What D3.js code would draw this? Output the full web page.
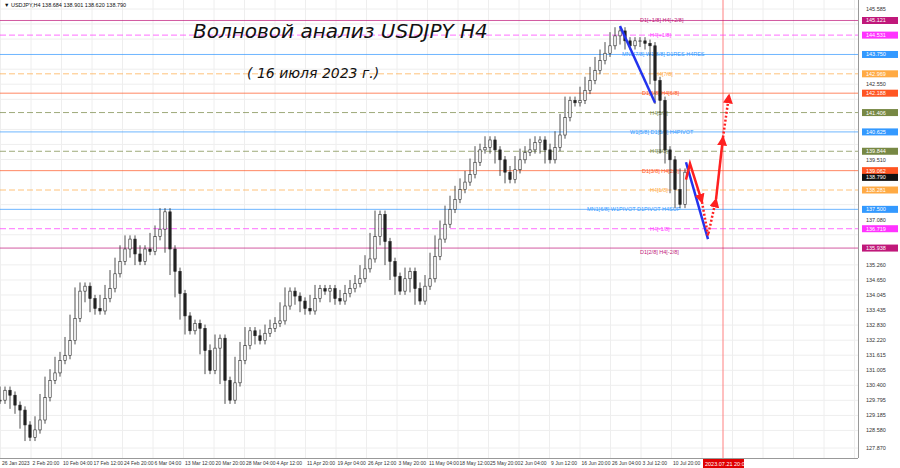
<!DOCTYPE html>
<html><head><meta charset="utf-8">
<script src="https://cdn.jsdelivr.net/npm/d3@7"></script>
<style>body{margin:0;background:#fff}svg{font-family:"Liberation Sans",Arial,sans-serif}</style>
</head><body><svg id="chart" width="900" height="468"></svg>
<script>
// closes, one per step (5 px) from 26 Jan to 14 Jul
const closes = [129.8,130.2,130.0,129.6,129.4,128.8,128.3,128.6,129.0,129.9,130.6,130.9,131.4,131.6,132.2,133.1,134.2,134.4,133.9,133.5,
133.4,133.9,134.3,134.9,135.4,135.9,136.3,135.7,135.4,135.9,135.8,136.4,136.7,137.4,135.9,135.0,134.1,133.2,132.6,132.9,
132.7,131.8,131.0,131.9,132.3,130.6,129.8,130.5,131.4,132.0,132.6,132.4,132.2,132.5,132.7,132.9,133.0,133.6,134.2,134.0,
133.8,133.5,133.4,133.9,134.3,134.2,134.3,133.9,133.8,134.1,134.3,134.5,134.7,135.1,135.5,136.4,137.3,136.2,135.4,134.8,
134.2,134.7,135.0,134.3,133.8,134.4,134.7,135.6,136.3,136.9,137.5,137.9,138.3,138.6,138.9,139.4,139.9,140.0,140.3,139.9,
139.5,139.0,138.7,139.1,139.5,139.8,139.9,140.2,140.3,139.9,139.5,140.0,140.5,141.2,141.9,141.8,141.9,142.3,142.7,143.1,
143.5,143.8,144.1,144.5,144.7,144.3,144.1,144.3,144.3,144.2,144.1,142.7,141.9,139.9,139.5,138.3,137.7,139.0];
const levels = [145.121,144.531,143.750,142.969,142.188,141.406,140.625,139.844,139.062,138.281,137.500,136.719,135.938];
const levelColors = ["#c0187a","#ff33ff","#3399ff","#ffaa44","#ff5522","#778844","#3399ff","#778844","#ff5522","#ffaa44","#3399ff","#ff33ff","#c0187a"];
const levelDash = [false,true,false,true,false,true,false,true,false,true,false,true,false];
const levelNames = ["D1[+1/8] H4[+2/8]","H4[+1/8]","MN1[7/8] W1[8/8] D1RES H4RES","H4[7/8]","D1[6/8] H4[6/8]","H4[5/8]","W1[5/8] D1[5/8] H4PIVOT","H4[3/8]","D1[3/8] H4[2/8]","H4[1/8]","MN1[6/8] W1PIVOT D1PIVOT H4SUP","H4[-1/8]","D1[2/8] H4[-2/8]"];
const levelLabelX = [128,130,124.4,131,128.4,130,126,130,128.4,130,117.4,130,128];
const priceTicks = [145.585,144.980,144.370,143.155,142.550,141.940,140.725,140.120,139.510,137.690,137.080,136.475,135.260,134.650,134.045,133.435,132.830,132.220,131.615,131.005,130.400,129.795,129.185,128.580,127.870];
const dateLabels = ["26 Jan 2023","2 Feb 20:00","10 Feb 04:00","17 Feb 12:00","24 Feb 20:00","6 Mar 04:00","13 Mar 12:00","20 Mar 20:00","28 Mar 04:00","4 Apr 12:00","11 Apr 20:00","19 Apr 04:00","26 Apr 12:00","3 May 20:00","11 May 04:00","18 May 12:00","25 May 20:00","2 Jun 04:00","9 Jun 12:00","16 Jun 20:00","26 Jun 04:00","3 Jul 12:00","10 Jul 20:00"];
const lastPrice = 138.790;
const futureIndex = 144.6;
// wave drawings [index, price]
const blueWaves = [[[124,144.9],[131,141.8]],[[137.2,139.4],[141.6,136.3]]];
const redSolid = [[[137.2,138.7],[138,139.35],[140.4,137.8]],[[143.2,137.9],[144.6,140.4]]];
const redDotted = [[[140.4,137.8],[141.6,136.45],[143.2,137.9]],[[144.6,140.4],[145.8,142.1]]];

const svg = d3.select('#chart');
const W = 858, H = 458;
const x = d3.scaleLinear().domain([0, 171.6]).range([0, W]);
const y = d3.scaleLinear().domain([127.87, 145.585]).range([448, 9]);

// grid
const gx = d3.range(0, 172, 6.1);
svg.append('g').selectAll('line').data(gx).join('line')
  .attr('x1', d => x(d) + 0.5).attr('x2', d => x(d) + 0.5).attr('y1', 0).attr('y2', H)
  .attr('stroke', '#eeeeee');
svg.append('g').selectAll('line').data(priceTicks).join('line')
  .attr('x1', 0).attr('x2', W).attr('y1', d => y(d)).attr('y2', d => y(d))
  .attr('stroke', '#eeeeee');

// future line
svg.append('line').attr('x1', x(futureIndex)).attr('x2', x(futureIndex)).attr('y1', 0).attr('y2', H)
  .attr('stroke', '#ff8080').attr('stroke-width', 1);

// levels
svg.append('g').selectAll('line').data(levels).join('line')
  .attr('x1', 0).attr('x2', W).attr('y1', d => y(d)).attr('y2', d => y(d))
  .attr('stroke', (d, i) => levelColors[i]).attr('opacity', 0.7)
  .attr('stroke-dasharray', (d, i) => levelDash[i] ? '6,3' : null);
svg.append('g').selectAll('text').data(levels).join('text')
  .attr('x', (d, i) => x(levelLabelX[i])).attr('y', (d, i) => y(d) + (i == 12 ? 6 : 2))
  .attr('font-size', 5.5).attr('fill', (d, i) => levelColors[i]).text((d, i) => levelNames[i]);

// candles
const bw = 2.4;
const cg = svg.append('g');
closes.forEach((c, i) => {
  const o = i ? closes[i - 1] : c;
  const hi = Math.max(o, c, closes[i + 1] ?? c) + 0.15;
  const lo = Math.min(o, c, closes[i + 1] ?? c) - 0.15;
  cg.append('line').attr('x1', x(i)).attr('x2', x(i)).attr('y1', y(hi)).attr('y2', y(lo)).attr('stroke', '#222').attr('stroke-width', 0.8);
  cg.append('rect').attr('x', x(i) - bw / 2).attr('y', y(Math.max(o, c)))
    .attr('width', bw).attr('height', Math.max(0.8, Math.abs(y(o) - y(c))))
    .attr('fill', c >= o ? '#fff' : '#222').attr('stroke', '#222').attr('stroke-width', 0.6);
});

// waves
const line = d3.line().x(d => x(d[0])).y(d => y(d[1]));
svg.append('defs').append('marker').attr('id', 'ah').attr('viewBox', '0 0 10 10').attr('refX', 8).attr('refY', 5)
  .attr('markerWidth', 4).attr('markerHeight', 4).attr('orient', 'auto')
  .append('path').attr('d', 'M0,0L10,5L0,10z').attr('fill', '#ff2020');
blueWaves.forEach(w => svg.append('path').attr('d', line(w)).attr('stroke', '#2233ee').attr('stroke-width', 2.5).attr('fill', 'none'));
redSolid.forEach(w => svg.append('path').attr('d', line(w)).attr('stroke', '#ff2020').attr('stroke-width', 2.5).attr('fill', 'none').attr('marker-end', 'url(#ah)'));
redDotted.forEach(w => svg.append('path').attr('d', line(w)).attr('stroke', '#ff2020').attr('stroke-width', 2.5).attr('fill', 'none').attr('stroke-dasharray', '2,2').attr('marker-end', 'url(#ah)'));

// frame
svg.append('line').attr('x1', W + 0.5).attr('x2', W + 0.5).attr('y1', 0).attr('y2', H).attr('stroke', '#999');
svg.append('line').attr('x1', 0).attr('x2', W).attr('y1', H + 0.5).attr('y2', H + 0.5).attr('stroke', '#999');

// price axis (skip ticks hidden by level boxes)
const allBoxes = levels.concat([lastPrice]);
const visTicks = priceTicks.filter(t => allBoxes.every(l => Math.abs(y(l) - y(t)) > 7));
svg.append('g').selectAll('text').data(visTicks).join('text')
  .attr('x', 866).attr('y', d => y(d) + 2).attr('font-size', 5.5).attr('fill', '#333').text(d => d.toFixed(3));
const lg = svg.append('g').selectAll('g').data(allBoxes).join('g')
  .attr('transform', d => `translate(862,${y(d) - 3.5})`);
lg.append('rect').attr('width', 36).attr('height', 7).attr('fill', (d, i) => i < levels.length ? levelColors[i] : '#111');
lg.append('text').attr('x', 4).attr('y', 5.5).attr('font-size', 5.5).attr('fill', '#fff').text(d => d.toFixed(3));

// date axis
svg.append('g').selectAll('text').data(dateLabels).join('text')
  .attr('x', (d, i) => x(i * 6.1) + 2).attr('y', 465).attr('font-size', 5).attr('fill', '#333').text(d => d);
svg.append('rect').attr('x', x(futureIndex) - 20).attr('y', 459).attr('width', 41).attr('height', 9).attr('fill', '#e00000');
svg.append('text').attr('x', x(futureIndex) - 18).attr('y', 466).attr('font-size', 5.5).attr('fill', '#fff').text('2023.07.21 20:00');

// titles
svg.append('text').attr('x', 4).attr('y', 7).attr('font-size', 5.5).attr('fill', '#111').text('▼ USDJPY,H4  138.684 138.901 138.620 138.790');
svg.append('text').attr('x', 193).attr('y', 38).attr('font-size', 20).attr('font-style', 'italic').attr('font-family', 'DejaVu Sans').attr('fill', '#111').text('Волновой анализ USDJPY H4');
svg.append('text').attr('x', 247).attr('y', 78).attr('font-size', 14).attr('font-style', 'italic').attr('font-family', 'DejaVu Sans').attr('fill', '#111').text('( 16 июля 2023 г.)');
</script></body></html>
